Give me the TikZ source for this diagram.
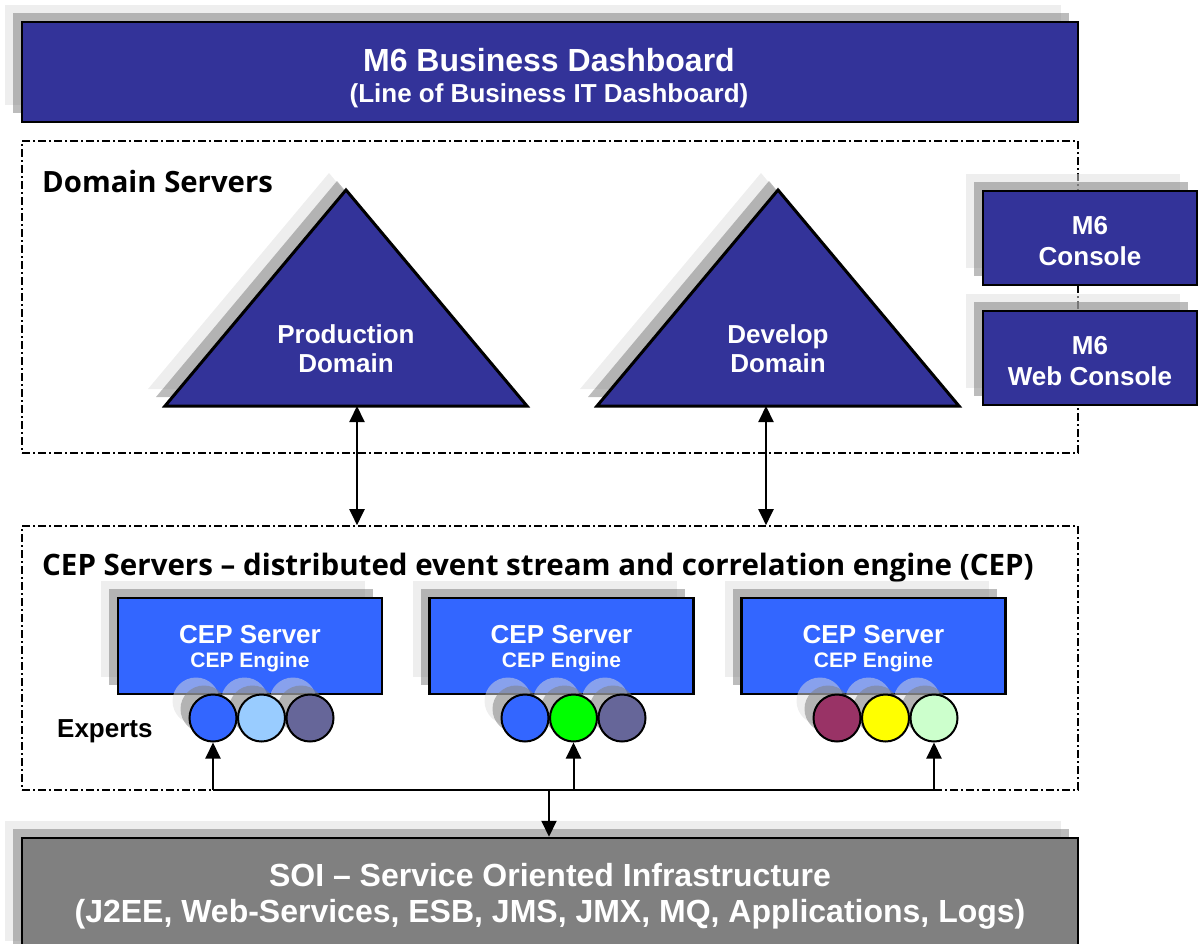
\documentclass[tikz,border=0pt]{standalone}
\usepackage{fontspec}
\setmainfont{Liberation Sans}
\newfontfamily\osans{Open Sans}
\usetikzlibrary{arrows.meta,shadows}
\definecolor{navy}{HTML}{333399}
\definecolor{cepblue}{HTML}{3366FF}
\definecolor{soigray}{HTML}{808080}
\definecolor{shL}{HTML}{DDDDDD}
\definecolor{shD}{HTML}{808080}
\definecolor{exLB}{HTML}{99CCFF}
\definecolor{exSl}{HTML}{666699}
\definecolor{exGr}{HTML}{00FF00}
\definecolor{exPl}{HTML}{993366}
\definecolor{exYe}{HTML}{FFFF00}
\definecolor{exMi}{HTML}{CCFFCC}
\newcommand\fsz[1]{\fontsize{#1}{#1}\selectfont}
\begin{document}
\begin{tikzpicture}[x=1pt,y=-1pt,
  >={Triangle[length=16pt,width=15pt]},
  twoshadow/.style={
    copy shadow={shadow xshift=-17pt,shadow yshift=17pt,fill=shL,draw=none,fill opacity=0.5},
    copy shadow={shadow xshift=-9pt,shadow yshift=9pt,fill=shD,draw=none,fill opacity=0.53}},
  zone/.style={draw=black,line width=1.6pt,dash pattern=on 8pt off 3pt on 2pt off 3pt,rectangle,inner sep=0pt},
  navybox/.style={rectangle,draw=black,line width=2.5pt,fill=navy,inner sep=0pt,twoshadow},
  cepbox/.style={rectangle,draw=black,line width=2.5pt,fill=cepblue,inner sep=0pt,twoshadow,minimum width=264,minimum height=96},
  soibox/.style={rectangle,draw=black,line width=2.5pt,fill=soigray,inner sep=0pt,twoshadow},
  navytri/.style={draw=black,line width=3pt,fill=navy,twoshadow},
  expert/.style={circle,draw=black,line width=2pt,minimum size=47,inner sep=0pt,twoshadow},
  wt/.style={text=white,font=\bfseries,anchor=base,inner sep=0pt},
  bt/.style={text=black,anchor=base,inner sep=0pt},
  conn/.style={line width=2pt,draw=black}
]
\useasboundingbox (0,0) rectangle (1200,943);

% zones
\node[zone,minimum width=1056,minimum height=312] (domain) at (550,297) {};
\node[zone,minimum width=1056,minimum height=264] (cepzone) at (550,658) {};

% top bar
\node[navybox,minimum width=1056,minimum height=100] (dash) at (550,72) {};
\node[wt,font=\bfseries\fsz{32}] (dashA) at (549,71) {M6 Business Dashboard};
\node[wt,font=\bfseries\fsz{26}] (dashB) at (549,102) {(Line of Business IT Dashboard)};

% domain label
\node[bt,anchor=base west,font=\osans\bfseries\fsz{29.3}] (domT) at (42,192) {Domain Servers};

% triangles
\path[navytri] (165,406) -- (346,190) -- (527,406) -- cycle;
\path[navytri] (597,406) -- (778,190) -- (959,406) -- cycle;
\coordinate (pdA) at (357,406);
\coordinate (ddA) at (766,406);
\node[wt,font=\bfseries\fsz{26}] (pdT1) at (346,343) {Production};
\node[wt,font=\bfseries\fsz{26}] (pdT2) at (346,372) {Domain};
\node[wt,font=\bfseries\fsz{26}] (ddT1) at (778,343) {Develop};
\node[wt,font=\bfseries\fsz{26}] (ddT2) at (778,372) {Domain};

% consoles
\node[navybox,minimum width=214,minimum height=94] (con) at (1090,238) {};
\node[wt,font=\bfseries\fsz{26}] (conA) at (1090,234) {M6};
\node[wt,font=\bfseries\fsz{26}] (conB) at (1090,265) {Console};
\node[navybox,minimum width=214,minimum height=94] (wcon) at (1090,358) {};
\node[wt,font=\bfseries\fsz{26}] (wconA) at (1090,354) {M6};
\node[wt,font=\bfseries\fsz{26}] (wconB) at (1090,385) {Web Console};

% CEP label
\node[bt,anchor=base west,font=\osans\bfseries\fsz{29.5}] (cepT) at (42,575) {CEP Servers – distributed event stream and correlation engine (CEP)};

% CEP servers
\foreach \n/\cx in {1/250,2/561.5,3/873.5}{
  \node[cepbox] (cep\n) at (\cx,646) {};
  \node[wt,font=\bfseries\fsz{26}] (cep\n A) at (\cx,643) {CEP Server};
  \node[wt,font=\bfseries\fsz{21}] (cep\n B) at (\cx,667) {CEP Engine};
}

% experts (drawn right to left so shadows layer correctly)
\node[expert,fill=exSl] (e13) at (310,718) {};
\node[expert,fill=exLB] (e12) at (261.5,718) {};
\node[expert,fill=cepblue] (e11) at (213,718) {};
\node[expert,fill=exSl] (e23) at (622,718) {};
\node[expert,fill=exGr] (e22) at (573.5,718) {};
\node[expert,fill=cepblue] (e21) at (525,718) {};
\node[expert,fill=exMi] (e33) at (934,718) {};
\node[expert,fill=exYe] (e32) at (885.5,718) {};
\node[expert,fill=exPl] (e31) at (837,718) {};
\node[bt,font=\bfseries\fsz{26},anchor=base west] (expT) at (57,737) {Experts};

% SOI
\node[soibox,minimum width=1056,minimum height=120] (soi) at (550,898) {};
\node[wt,font=\bfseries\fsz{32}] (soiA) at (550,886) {SOI – Service Oriented Infrastructure};
\node[wt,font=\bfseries\fsz{32}] (soiB) at (550,922) {(J2EE, Web-Services, ESB, JMS, JMX, MQ, Applications, Logs)};

% connectors
\draw[conn,<->] (pdA) -- (pdA |- cepzone.north);
\draw[conn,<->] (ddA) -- (ddA |- cepzone.north);
\coordinate (b1) at (213,790);
\coordinate (b2) at (573.5,790);
\coordinate (b3) at (934,790);
\coordinate (bm) at (549,790);
\draw[conn] (b1) -- (b3);
\draw[conn,->] (b1) -- (e11.south);
\draw[conn,->] (b2) -- (e22.south);
\draw[conn,->] (b3) -- (e33.south);
\draw[conn,->] (bm) -- (bm |- soi.north);
\end{tikzpicture}
\end{document}
